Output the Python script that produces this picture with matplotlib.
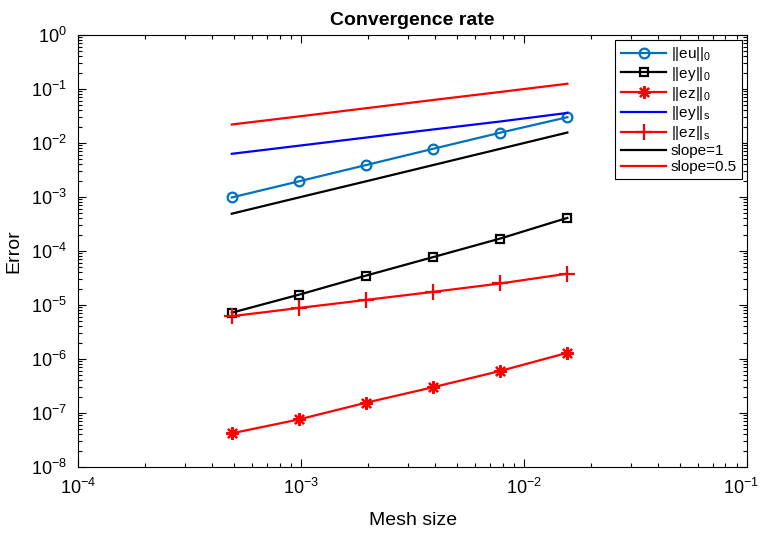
import numpy as np
import matplotlib
matplotlib.use("Agg")
import matplotlib.pyplot as plt
from matplotlib.transforms import ScaledTranslation

plt.rcParams["font.family"] = ["Liberation Sans", "DejaVu Sans"]
plt.rcParams["mathtext.fontset"] = "custom"
plt.rcParams["mathtext.rm"] = "Liberation Sans"
plt.rcParams["mathtext.default"] = "regular"
plt.rcParams["axes.unicode_minus"] = False

# mesh sizes
h = [1/2048, 1/1024, 1/512, 1/256, 1/128, 1/64]

# errors
eu0 = [9.8e-4, 1.95e-3, 3.9e-3, 7.8e-3, 1.55e-2, 3.0e-2]
ey0 = [7.2e-6, 1.55e-5, 3.5e-5, 7.7e-5, 1.7e-4, 4.1e-4]
ez0 = [4.2e-8, 7.6e-8, 1.55e-7, 3.0e-7, 6.0e-7, 1.3e-6]
eys = [6.3e-3, 8.9e-3, 1.26e-2, 1.78e-2, 2.5e-2, 3.6e-2]
ezs = [6.2e-6, 8.8e-6, 1.24e-5, 1.75e-5, 2.5e-5, 3.8e-5]
slope1 = [4.9e-4, 9.8e-4, 1.95e-3, 3.9e-3, 7.8e-3, 1.56e-2]
slope05 = [2.2e-2, 3.1e-2, 4.4e-2, 6.25e-2, 8.8e-2, 1.25e-1]

fig = plt.figure(figsize=(7.6, 5.38), dpi=100)
ax = fig.add_axes([0.103, 0.132, 0.88, 0.803])

lw = 1.6
ax.loglog(h, eu0, "-o", color="#0072BD", lw=lw, ms=7, mfc="none", mew=1.6, label="$||eu||_0$")
ax.loglog(h, ey0, "-s", color="k", lw=lw, ms=6, mfc="none", mew=1.6, label="$||ey||_0$")
ax.loglog(h, ez0, "-", marker=(8, 2, 0), color="r", lw=lw, ms=9, mew=1.6, label="$||ez||_0$")
ax.loglog(h, eys, "-", color="b", lw=lw, label="$||ey||_s$")
ax.loglog(h, ezs, "-+", color="r", lw=lw, ms=12, mew=1.6, label="$||ez||_s$")
ax.loglog(h, slope1, "-", color="k", lw=lw, label="slope=1")
ax.loglog(h, slope05, "-", color="r", lw=lw, label="slope=0.5")

ax.set_xlim(1e-4, 1e-1)
ax.set_ylim(1e-8, 1e0)
ax.set_xticks([1e-4, 1e-3, 1e-2, 1e-1])
ax.set_yticks([10.0**k for k in range(-8, 1)])
ax.tick_params(which="both", direction="in", top=True, right=True, labelsize=13, width=0.8)
ax.tick_params(which="major", length=6, pad=8)
ax.tick_params(which="minor", length=3)
for s in ax.spines.values():
    s.set_linewidth(0.8)

# keep the last x label inside the picture
last = ax.get_xticklabels()[-1]
last.set_transform(last.get_transform() + ScaledTranslation(-6/100, 0, fig.dpi_scale_trans))

ax.set_title("Convergence rate", fontsize=14, fontweight="bold", pad=7)
ax.set_xlabel("Mesh size", fontsize=14)
ax.set_ylabel("Error", fontsize=14)
ax.xaxis.set_label_coords(0.5, -0.105)
ax.yaxis.set_label_coords(-0.083, 0.5)

leg = ax.legend(loc="upper right", fontsize=11, handlelength=3.0, labelspacing=0.12,
                handletextpad=0.3, borderpad=0.35, fancybox=False, framealpha=1,
                edgecolor="k", borderaxespad=0.3)
leg.get_frame().set_linewidth(0.8)

fig.savefig("out.png", dpi=100)
